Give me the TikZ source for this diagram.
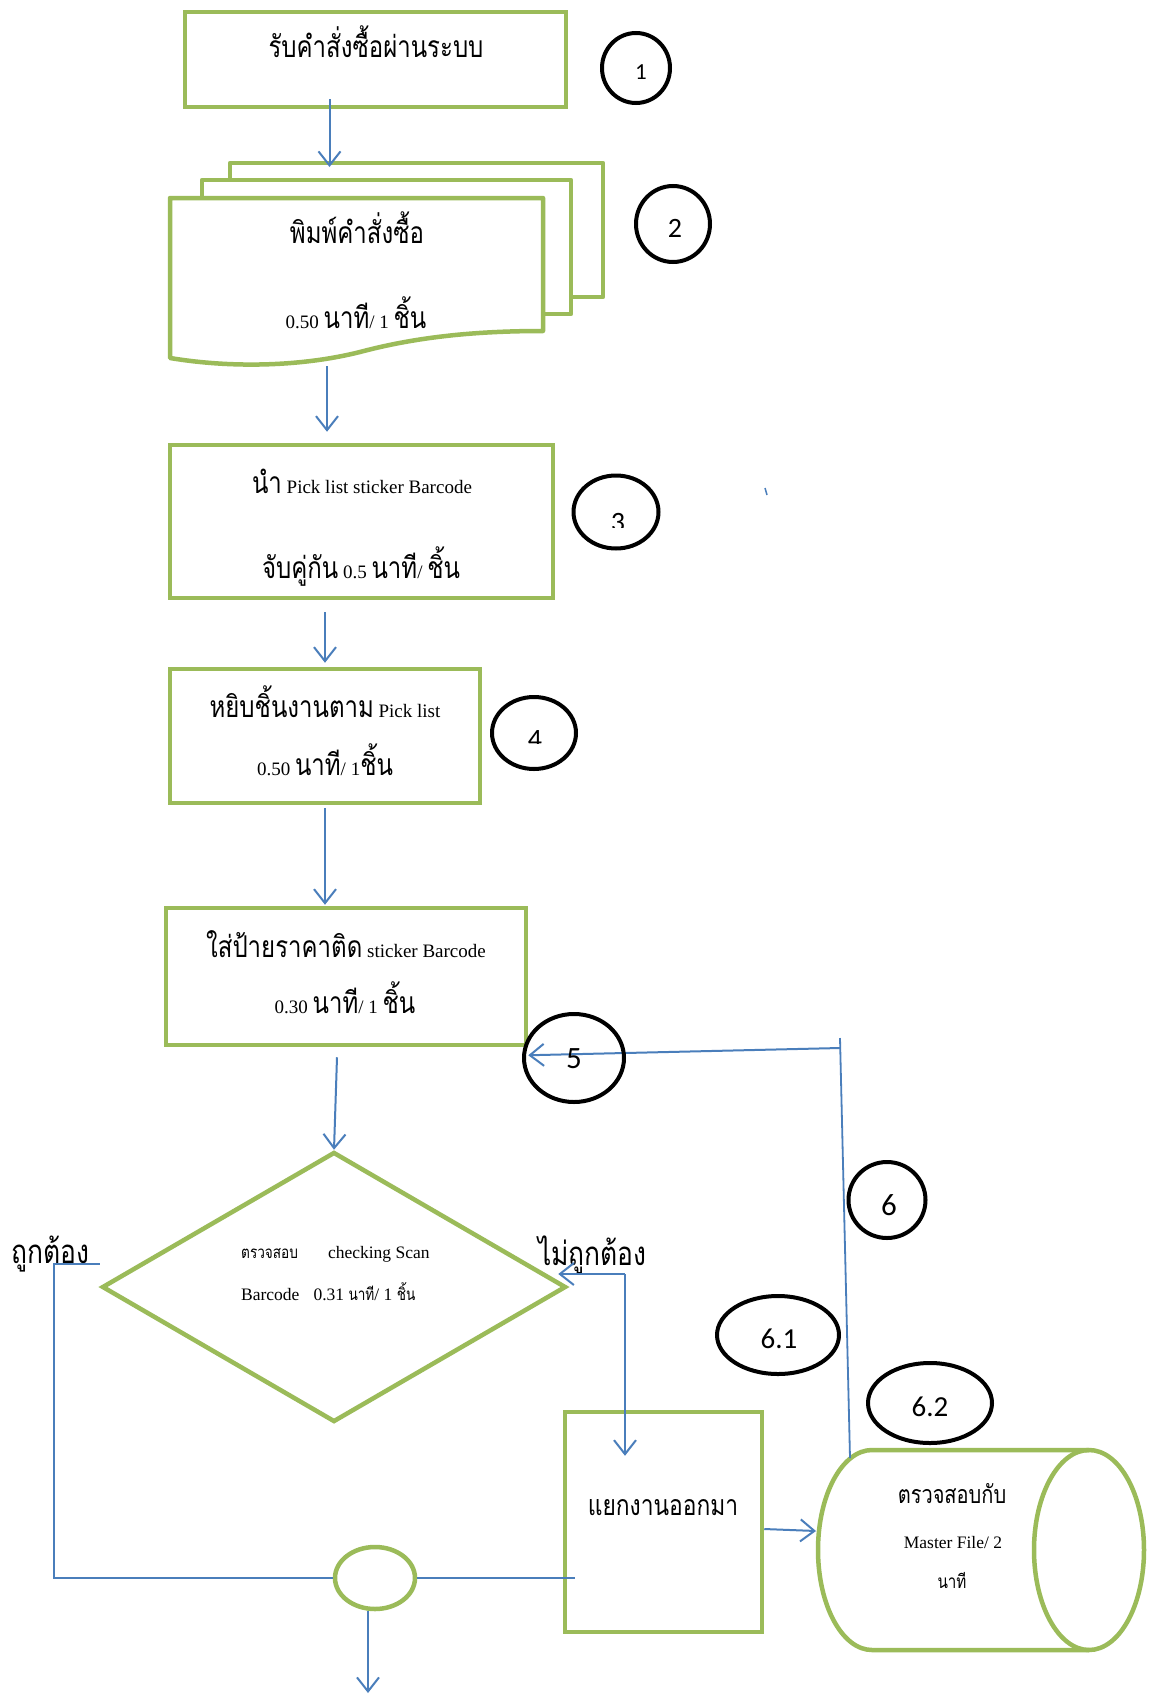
\documentclass[tikz,border=0pt]{standalone}
\usepackage{fontspec}
\setmainfont{Liberation Serif}
\newfontfamily\thaifont[Script=Thai,FakeStretch=0.8]{Loma}
\newfontfamily\digitfont{Carlito}
\usetikzlibrary{arrows.meta,shapes.geometric}

\definecolor{boxgreen}{RGB}{155,187,89}
\definecolor{flowblue}{RGB}{74,126,187}

% font sizes
\newcommand\thL{\thaifont\fontsize{30}{34}\selectfont}
\newcommand\thB{\thaifont\fontsize{33}{38}\selectfont}
\newcommand\thM{\thaifont\fontsize{28.5}{32}\selectfont}
\newcommand\thC{\thaifont\fontsize{25}{28}\selectfont}
\newcommand\thD{\thaifont\fontsize{19}{22}\selectfont}
\newcommand\thS{\thaifont\fontsize{17}{20}\selectfont}
\newcommand\laL{\rmfamily\fontsize{19}{22}\selectfont}
\newcommand\laS{\rmfamily\fontsize{17.5}{20}\selectfont}
\newcommand\laC{\rmfamily\fontsize{17.5}{20}\selectfont}
\newcommand\numfs[1]{\digitfont\fontsize{#1}{#1}\selectfont}

\begin{document}
\begin{tikzpicture}[x=1pt,y=-1pt,
  box/.style={draw=boxgreen,line width=4.5pt,fill=white,rectangle,inner sep=0pt},
  tag/.style={draw=black,line width=4pt,ellipse,inner sep=0pt},
  flow/.style={draw=flowblue,line width=2pt,-{Straight Barb[length=14pt,width=22pt]}},
  link/.style={draw=flowblue,line width=1.8pt},
  lbl/.style={inner sep=0pt,anchor=base},
  doc/.style={draw=boxgreen,line width=4.5pt,fill=white,line join=round}]

\fill[white] (0,0) rectangle (1149,1694);
\useasboundingbox (0,0) rectangle (1149,1694);

% ---------- process boxes ----------
\node[box,minimum width=381pt,minimum height=95pt] (b1) at (375.5,59.5) {};

% stacked documents
\draw[doc] (230,163) rectangle (603,297);
\draw[doc] (202,180) rectangle (571,314);
\draw[doc] (170,198) -- (543,198) -- (543,331)
  .. controls (480,331) and (420,336) .. (360,352)
  .. controls (300,367) and (230,368) .. (170,358) -- cycle;
\coordinate (docin) at (329.5,167);
\coordinate (docout) at (327,366);

\node[box,minimum width=383pt,minimum height=153pt] (b3) at (361.5,521.5) {};
\node[box,minimum width=310pt,minimum height=134pt] (b4) at (325,736) {};
\node[box,minimum width=360pt,minimum height=137pt] (b5) at (346,976.5) {};
\node[box,diamond,minimum width=464pt,minimum height=270pt] (chk) at (334,1287) {};
\node[box,minimum width=197pt,minimum height=220pt] (b6) at (663.5,1522) {};

% storage cylinder
\draw[doc] (872,1450) -- (1089,1450)
  arc[start angle=90,end angle=-90,x radius=55pt,y radius=100pt]
  -- (872,1650)
  arc[start angle=270,end angle=90,x radius=54pt,y radius=100pt] -- cycle;
\draw[doc,fill=none] (1089,1450) arc[start angle=90,end angle=270,x radius=55pt,y radius=100pt];
\coordinate (cyltop) at (850,1458);
\coordinate (cylin) at (816,1531);

% junction
\node[draw=boxgreen,line width=4.5pt,ellipse,inner sep=0pt,
      minimum width=80pt,minimum height=62pt,fill=white] (jn) at (375,1578) {};

% ---------- texts ----------
\node[lbl] (t1) at (376,58) {\thL รับคำสั่งซื้อผ่านระบบ};
\node[lbl] (t2a) at (357,243) {\thL พิมพ์คำสั่งซื้อ};
\node[lbl] (t2b) at (356,328) {\laL 0.50 {\thL นาที}/ 1 {\thL ชิ้น}};
\node[lbl] (t3a) at (362,493) {\laL{\thL นำ} Pick list sticker Barcode};
\node[lbl] (t3b) at (361,578) {\laL{\thL จับคู่กัน} 0.5 {\thL นาที}/ {\thL ชิ้น}};
\node[lbl] (t4a) at (325,717) {\laL{\thL หยิบชิ้นงานตาม} Pick list};
\node[lbl] (t4b) at (325,775) {\laL 0.50 {\thL นาที}/ 1{\thL ชิ้น}};
\node[lbl] (t5a) at (346,957) {\laL{\thL ใส่ป้ายราคาติด} sticker Barcode};
\node[lbl] (t5b) at (345,1013) {\laL 0.30 {\thL นาที}/ 1 {\thL ชิ้น}};
\node[lbl,anchor=base west] (t6a) at (241,1258) {\laS{\thS ตรวจสอบ}\hspace{30pt}checking Scan};
\node[lbl,anchor=base west] (t6b) at (241,1300) {\laS Barcode\hspace{14pt}0.31 {\thS นาที}/ 1 {\thS ชิ้น}};
\node[lbl,anchor=base west] (ok) at (11,1263) {\thB ถูกต้อง};
\node[lbl,anchor=base west] (nok) at (538,1265) {\thB ไม่ถูกต้อง};
\node[lbl] (t7) at (663,1515) {\thM แยกงานออกมา};
\node[lbl] (t8a) at (952,1503) {\thC ตรวจสอบกับ};
\node[lbl] (t8b) at (953,1548) {\laC Master File/ 2};
\node[lbl] (t8c) at (952,1588) {\thD นาที};

% ---------- connectors ----------
\draw[flow] ([xshift=-46pt,yshift=10pt]b1.south) -- (docin);
\draw[flow] (docout) -- ([xshift=-34.5pt,yshift=11pt]b3.north);
\draw[flow] ([xshift=-36.5pt,yshift=-12pt]b3.south) -- ([yshift=4pt]b4.north);
\draw[flow] ([yshift=-3pt]b4.south) -- ([xshift=-21pt,yshift=1pt]b5.north);
\draw[flow] ([xshift=-9pt,yshift=-10pt]b5.south) -- (chk.north);

% feedback from the cylinder to step 5
\coordinate (fbtop) at (840,1038);
\coordinate (fbturn) at (840,1048);
\draw[link] (cyltop) -- (fbtop);
\draw[flow] (fbturn) -- ([yshift=-8pt]b5.south east);

% correct branch
\coordinate (okturn) at (54,1264);
\draw[link] ([yshift=23pt]chk.west) -- (okturn) |- (jn.west);

% wrong branch
\coordinate (nturn) at (625,1274);
\draw[flow] (nturn) -- ([xshift=-10pt,yshift=13pt]chk.east);
\draw[flow] (nturn) -- ([xshift=-38.5pt,yshift=-46pt]b6.north);
\draw[flow] ([yshift=-7pt]b6.east) -- (cylin);

% junction links
\coordinate (jr) at (575,1578);
\coordinate (jend) at (368,1693);
\draw[link] (jn.east) -- (jr);
\draw[flow] ([xshift=-7pt]jn.south) -- (jend);

% stray stroke
\draw[flowblue,line width=1.5pt] (765,488) -- (767,495);

% ---------- step tags ----------
\node[tag,minimum width=68pt,minimum height=70pt] (c1) at (636,68) {};
\node[tag,minimum width=74pt,minimum height=76pt] (c2) at (673,224) {};
\node[tag,minimum width=85pt,minimum height=73pt] (c3) at (616,512) {};
\node[tag,minimum width=84pt,minimum height=72pt] (c4) at (534,733) {};
\node[tag,minimum width=100pt,minimum height=88pt] (c5) at (574,1058) {};
\node[tag,minimum width=77pt,minimum height=76pt] (c6) at (887,1200) {};
\node[tag,minimum width=122pt,minimum height=78pt] (c61) at (778,1335) {};
\node[tag,minimum width=124pt,minimum height=80pt] (c62) at (930,1403) {};

\node[lbl] (n1) at (641,80) {\numfs{23}1};
\node[lbl] (n2) at (675,237) {\numfs{28}2};
\begin{scope}
  \clip (570,490) rectangle (660,527);
  \node[lbl] (n3) at (618,531) {\numfs{28}3};
\end{scope}
\begin{scope}
  \clip (490,700) rectangle (580,743);
  \node[lbl] (n4) at (535,748) {\numfs{28}4};
\end{scope}
\node[lbl] (n5) at (574,1068) {\numfs{31}5};
\node[lbl] (n6) at (889,1215) {\numfs{31}6};
\node[lbl] (n61) at (779,1348) {\numfs{29}6.1};
\node[lbl] (n62) at (930,1416) {\numfs{29}6.2};
\end{tikzpicture}
\end{document}
